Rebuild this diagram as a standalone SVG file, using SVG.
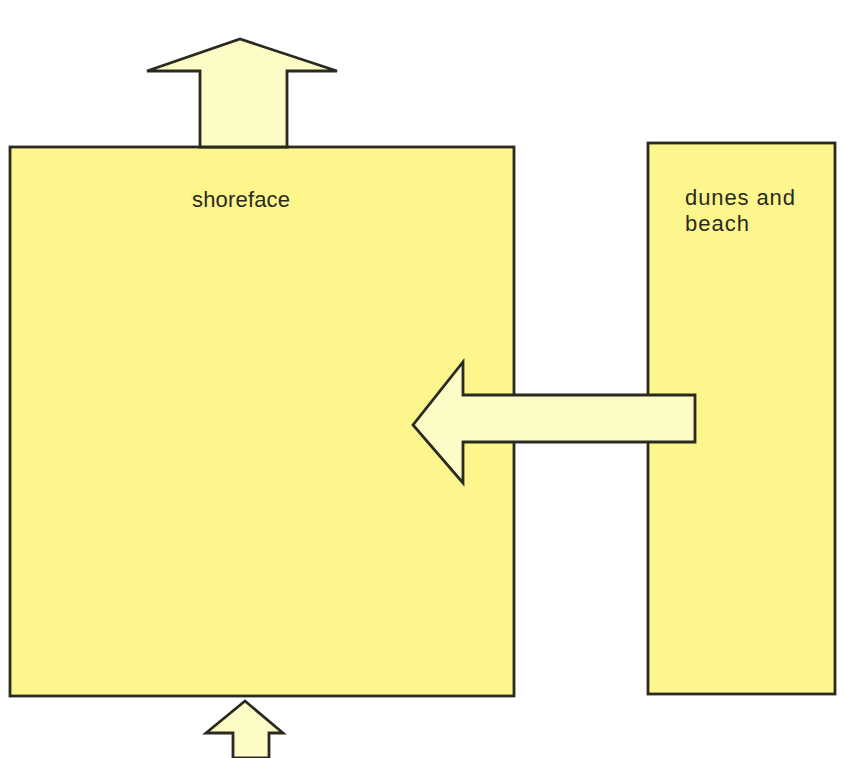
<svg xmlns="http://www.w3.org/2000/svg" width="844" height="758" viewBox="0 0 844 758">
<style>
.box{fill:#fdf68c;stroke:#2b2a20;stroke-width:2.8}
.arr{fill:#fefcc6;stroke:#2b2a20;stroke-width:2.8;stroke-linejoin:miter}
.lbl{font-family:"Liberation Sans",Arial,sans-serif;font-size:22px;fill:#2b2a20}
</style>
<rect width="844" height="758" fill="#ffffff"/>
<g id="shoreface">
<rect class="box" x="10" y="147" width="504" height="549"/>
<text class="lbl" x="192" y="207" textLength="98">shoreface</text>
</g>
<g id="dunes-beach">
<rect class="box" x="648" y="143" width="187" height="551"/>
<text class="lbl" x="685" y="205" textLength="110">dunes and</text>
<text class="lbl" x="685" y="231" textLength="64">beach</text>
</g>
<g id="connectors">
<polygon class="arr" points="200,147 200,71 147,71 240,39 337,71 287,71 287,147"/>
<polygon class="arr" points="695,395 463,395 463,362 413,425 463,483 463,442 695,442"/>
<polygon class="arr" points="233,758 233,733 206,733 245,701 283,733 269,733 269,758"/>
</g>
</svg>
